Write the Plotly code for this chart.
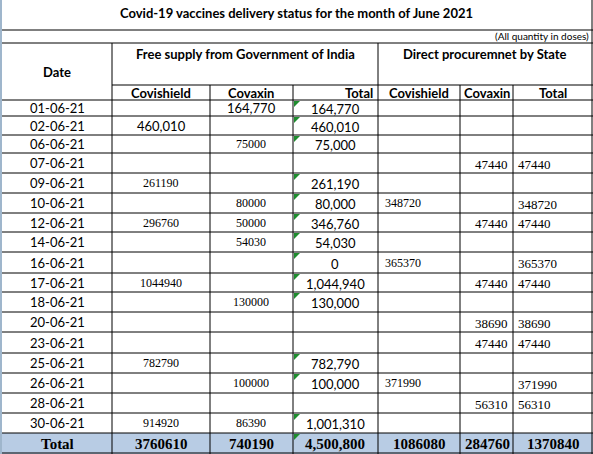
import plotly.graph_objects as go

# data
dates = ["01-06-21", "02-06-21", "06-06-21", "07-06-21", "09-06-21", "10-06-21", "12-06-21",
         "14-06-21", "16-06-21", "17-06-21", "18-06-21", "20-06-21", "23-06-21", "25-06-21",
         "26-06-21", "28-06-21", "30-06-21"]
free_covishield = ["", "460,010", "", "", "261190", "", "296760", "", "", "1044940", "", "", "",
                   "782790", "", "", "914920"]
free_covaxin = ["164,770", "", "75000", "", "", "80000", "50000", "54030", "", "", "130000", "", "",
                "", "100000", "", "86390"]
free_total = ["164,770", "460,010", "75,000", "", "261,190", "80,000", "346,760", "54,030", "0",
              "1,044,940", "130,000", "", "", "782,790", "100,000", "", "1,001,310"]
state_covishield = ["", "", "", "", "", "348720", "", "", "365370", "", "", "", "", "", "371990", "", ""]
state_covaxin = ["", "", "", "47440", "", "", "47440", "", "", "47440", "", "38690", "47440", "",
                 "", "56310", ""]
state_total = ["", "", "", "47440", "", "348720", "47440", "", "365370", "47440", "", "38690",
               "47440", "", "371990", "56310", ""]
totals = ["3760610", "740190", "4,500,800", "1086080", "284760", "1370840"]

# layout of the sheet (pixels)
col_edges = [2, 112, 210, 293, 378, 460, 513, 593]
row_edges = [100, 116, 135, 153, 173, 193, 213, 232, 252, 273, 292, 312, 332, 353, 373, 393, 413, 433]
total_bottom = 454

fig = go.Figure()
shapes = []
ann = []
line = dict(color="black", width=1)

def hline(x0, x1, y):
    shapes.append(dict(type="line", x0=x0, x1=x1, y0=y, y1=y, line=line))

def vline(x, y0, y1):
    shapes.append(dict(type="line", x0=x, x1=x, y0=y0, y1=y1, line=line))

def text(x, y, s, anchor="center", font=None):
    ann.append(dict(x=x, y=y, text=s, showarrow=False, xanchor=anchor, yanchor="middle",
                    font=font or dict(family="Lato", size=13, color="black")))

# total row background
shapes.append(dict(type="rect", x0=col_edges[0], x1=593, y0=row_edges[-1], y1=total_bottom,
                   fillcolor="#b8cce4", line=dict(width=0), layer="below"))
# left light border
shapes.append(dict(type="line", x0=1, x1=1, y0=0, y1=454, line=dict(color="#9fb6cc", width=2)))

hline(2, 593, 30)
hline(2, 593, 43)
hline(col_edges[1], 593, 85)
for y in row_edges:
    hline(2, 593, y)
hline(2, 593, total_bottom - 1)
vline(col_edges[1], 43, total_bottom)
vline(col_edges[4], 43, total_bottom)
for x in [col_edges[2], col_edges[3], col_edges[5], col_edges[6]]:
    vline(x, 85, total_bottom)
vline(592, 0, total_bottom)

bold = dict(family="Lato", size=13, color="black", weight="bold")
serif = dict(family="Liberation Serif", size=12, color="black")
lato = dict(family="Lato", size=13, color="black")

text(296, 13, "Covid-19 vaccines delivery status for the month of June 2021", font=bold)
text(591, 36, "(All quantity in doses)", "right", dict(family="Lato", size=10, color="black"))
text(57, 72, "Date", font=bold)
text(245, 54, "Free supply from Government of India", font=bold)
text(485, 54, "Direct procuremnet by State", font=bold)
sub = ["Covishield", "Covaxin", "Total", "Covishield", "Covaxin", "Total"]
sub_x = [(161, "center"), (251, "center"), (375, "right"), (419, "center"), (487, "center"), (553, "center")]
for s, (x, a) in zip(sub, sub_x):
    text(x, 93, s, a, bold)

for i, d in enumerate(dates):
    yc = (row_edges[i] + row_edges[i + 1]) / 2
    text(57, yc, d, font=lato)
    s = free_covishield[i]
    text(161, yc, s, font=lato if "," in s else serif)
    s = free_covaxin[i]
    text(251, yc, s, font=lato if "," in s else serif)
    text(335, yc + 1, free_total[i], font=lato)
    text(383, yc, state_covishield[i], "left", serif)
    text(510, yc + 1, state_covaxin[i], "right", dict(family="Liberation Serif", size=13, color="black"))
    text(516, yc + 1, state_total[i], "left", dict(family="Liberation Serif", size=13, color="black"))
    if free_total[i]:
        shapes.append(dict(type="path", path=f"M 294 {row_edges[i]+1} L 300 {row_edges[i]+1} L 294 {row_edges[i]+7} Z",
                           fillcolor="#1e8c2e", line=dict(width=0)))

yt = (row_edges[-1] + total_bottom) / 2
tb = dict(family="Liberation Serif", size=15, color="black", weight="bold")
text(57, yt, "Total", font=tb)
tot_x = [(161, "center"), (251, "center"), (335, "center"), (419, "center"), (487, "center"), (553, "center")]
for s, (x, a) in zip(totals, tot_x):
    text(x, yt, s, a, tb)
shapes.append(dict(type="path", path=f"M 294 {row_edges[-1]+1} L 300 {row_edges[-1]+1} L 294 {row_edges[-1]+7} Z",
                   fillcolor="#1e8c2e", line=dict(width=0)))

fig.update_layout(
    width=593, height=454, margin=dict(l=0, r=0, t=0, b=0),
    paper_bgcolor="white", plot_bgcolor="white",
    xaxis=dict(range=[0, 593], visible=False, fixedrange=True),
    yaxis=dict(range=[454, 0], visible=False, fixedrange=True),
    shapes=shapes, annotations=ann, showlegend=False,
)
fig.write_html("out.html", config=dict(displayModeBar=False),
               post_script="document.body.style.margin='0';document.body.style.overflow='hidden';")
